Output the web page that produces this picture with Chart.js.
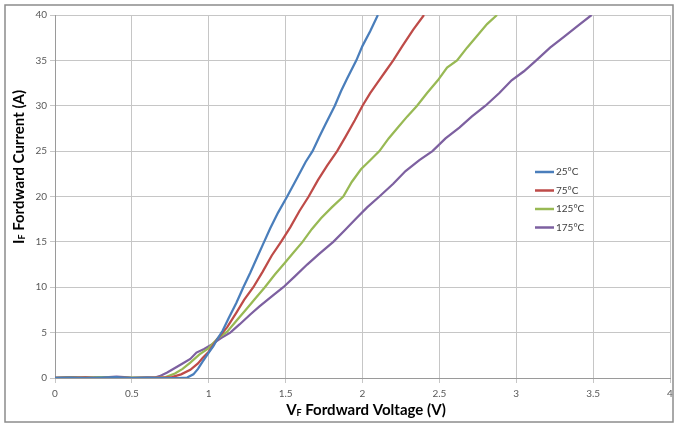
<!DOCTYPE html>
<html>
<head>
<meta charset="utf-8">
<script src="https://cdn.jsdelivr.net/npm/chart.js@4"></script>
<style>
  html, body { margin: 0; padding: 0; background: #fff; }
  #wrap { width: 676px; height: 425px; }
</style>
</head>
<body>
<div id="wrap"><canvas id="myChart" width="676" height="425"></canvas></div>
<script>
// forward voltage (V) / forward current (A)
const volts25 = [0, 0.1, 0.2, 0.3, 0.4, 0.5, 0.6, 0.7, 0.8, 0.86, 0.9, 0.93, 0.96, 1.0, 1.03, 1.06, 1.09, 1.13, 1.18, 1.225, 1.27, 1.32, 1.36, 1.4, 1.45, 1.51, 1.58, 1.63, 1.675, 1.72, 1.76, 1.82, 1.86, 1.9, 1.96, 2.0, 2.05, 2.1];
const amps25  = [0, 0.05, 0, 0.05, 0.1, 0, 0.05, 0, 0, 0.05, 0.4, 1.0, 1.8, 2.8, 3.5, 4.4, 5.2, 6.6, 8.3, 10, 11.6, 13.5, 15, 16.5, 18.2, 20, 22.2, 23.8, 25, 26.6, 28, 30, 31.6, 33, 35, 36.6, 38.2, 40];

const volts75 = [0, 0.1, 0.2, 0.3, 0.4, 0.5, 0.6, 0.7, 0.76, 0.82, 0.88, 0.93, 0.96, 1.0, 1.06, 1.12, 1.18, 1.23, 1.29, 1.35, 1.41, 1.47, 1.53, 1.59, 1.65, 1.71, 1.77, 1.835, 1.89, 1.95, 2.0, 2.05, 2.1, 2.15, 2.2, 2.26, 2.33, 2.4];
const amps75  = [0, 0.05, 0.05, 0, 0.1, 0, 0.05, 0.05, 0.1, 0.4, 0.9, 1.6, 2.2, 2.9, 4.4, 5.6, 7.2, 8.6, 10, 11.7, 13.5, 15, 16.6, 18.4, 20, 21.8, 23.4, 25, 26.6, 28.4, 30, 31.4, 32.6, 33.8, 35, 36.6, 38.4, 40];

const volts125 = [0, 0.1, 0.2, 0.3, 0.4, 0.5, 0.6, 0.66, 0.72, 0.78, 0.83, 0.88, 0.94, 1.0, 1.06, 1.12, 1.18, 1.24, 1.3, 1.365, 1.43, 1.49, 1.55, 1.61, 1.67, 1.73, 1.8, 1.875, 1.93, 1.99, 2.05, 2.11, 2.17, 2.23, 2.29, 2.355, 2.42, 2.49, 2.55, 2.615, 2.68, 2.75, 2.81, 2.875];
const amps125  = [0, 0.1, 0.05, 0.1, 0.05, 0.05, 0.05, 0.05, 0.1, 0.5, 1.0, 1.7, 2.6, 3.3, 4.4, 5.1, 6.3, 7.5, 8.7, 10, 11.4, 12.6, 13.8, 15, 16.4, 17.6, 18.8, 20, 21.6, 23.0, 24.0, 25, 26.4, 27.6, 28.8, 30, 31.4, 32.8, 34.2, 35, 36.4, 37.8, 39.0, 40];

const volts175 = [0, 0.05, 0.1, 0.15, 0.2, 0.25, 0.3, 0.35, 0.4, 0.45, 0.5, 0.55, 0.6, 0.65, 0.68, 0.73, 0.78, 0.83, 0.88, 0.92, 0.97, 1.02, 1.08, 1.14, 1.2, 1.27, 1.33, 1.41, 1.485, 1.56, 1.64, 1.72, 1.81, 1.88, 1.96, 2.03, 2.11, 2.2, 2.28, 2.37, 2.455, 2.54, 2.63, 2.71, 2.8, 2.89, 2.97, 3.05, 3.13, 3.22, 3.31, 3.4, 3.49];
const amps175  = [0, 0.05, 0.1, 0.05, 0.1, 0.05, 0.1, 0.1, 0.15, 0.1, 0.05, 0.05, 0.05, 0.05, 0.2, 0.6, 1.1, 1.6, 2.1, 2.8, 3.2, 3.7, 4.4, 5.0, 5.9, 7.0, 7.9, 9.0, 10, 11.2, 12.5, 13.7, 15, 16.2, 17.6, 18.8, 20, 21.4, 22.8, 24.0, 25, 26.4, 27.6, 28.8, 30, 31.4, 32.8, 33.8, 35, 36.4, 37.6, 38.8, 40];

const seriesLabels = ['25°C', '75°C', '125°C', '175°C'];

function pts(v, a) {
  return v.map((x, k) => ({ x: x, y: a[k] }));
}

const tickColor = '#595959';
const gridColor = '#c6c6c6';

// small legend inside the plot, Excel style
const innerLegend = {
  id: 'innerLegend',
  afterDatasetsDraw(chart) {
    const c = chart.ctx;
    c.save();
    c.font = '10px Lato';
    c.textBaseline = 'middle';
    chart.data.datasets.forEach((ds, i) => {
      const y = 172 + i * 18.5;
      c.strokeStyle = ds.borderColor;
      c.lineWidth = 2.5;
      c.beginPath();
      c.moveTo(535, y);
      c.lineTo(554, y);
      c.stroke();
      c.fillStyle = '#404040';
      c.fillText(ds.label, 556, y);
    });
    c.restore();
  }
};

// axis titles with the subscript F, and the outer frame
function drawSubTitle(c, big, sub, rest) {
  const fb = 'bold 15px Lato', fs = 'bold 9px Lato';
  c.font = fb; const w1 = c.measureText(big).width;
  c.font = fs; const w2 = c.measureText(sub).width;
  c.font = fb; const w3 = c.measureText(rest).width;
  let x = -(w1 + w2 + w3) / 2;
  c.fillStyle = '#000';
  c.textBaseline = 'middle';
  c.font = fb; c.fillText(big, x, 0); x += w1;
  c.font = fs; c.fillText(sub, x, 3); x += w2;
  c.font = fb; c.fillText(rest, x, 0);
}

const titlesAndFrame = {
  id: 'titlesAndFrame',
  afterDraw(chart) {
    const c = chart.ctx;
    c.save();
    c.translate(366, 410);
    drawSubTitle(c, 'V', 'F', ' Fordward Voltage (V)');
    c.restore();
    c.save();
    c.translate(19, 167);
    c.rotate(-Math.PI / 2);
    drawSubTitle(c, 'I', 'F', ' Fordward Current (A)');
    c.restore();
    c.save();
    c.strokeStyle = '#8c8c8c';
    c.lineWidth = 1.5;
    c.strokeRect(5, 5, 668, 417);
    c.restore();
  }
};

let ctx = document.getElementById('myChart').getContext('2d');
let myChart = new Chart(ctx, {
  type: 'scatter',
  data: {
    datasets: [
      { label: seriesLabels[0], data: pts(volts25, amps25), borderColor: '#4a7ebb', backgroundColor: '#4a7ebb' },
      { label: seriesLabels[1], data: pts(volts75, amps75), borderColor: '#be4b48', backgroundColor: '#be4b48' },
      { label: seriesLabels[2], data: pts(volts125, amps125), borderColor: '#98b954', backgroundColor: '#98b954' },
      { label: seriesLabels[3], data: pts(volts175, amps175), borderColor: '#7d60a0', backgroundColor: '#7d60a0' },
    ],
  },
  options: {
    responsive: false,
    animation: false,
    showLine: true,
    layout: { padding: { left: 0, right: 6, top: 15, bottom: 0 } },
    elements: {
      point: { radius: 0 },
      line: { borderWidth: 2.25, tension: 0 },
    },
    scales: {
      x: {
        type: 'linear',
        min: 0,
        max: 4,
        ticks: {
          stepSize: 0.5,
          color: tickColor,
          font: { size: 10, family: 'Lato' },
          padding: 5,
          callback: (v) => String(v),
        },
        grid: { color: gridColor, tickLength: 5 },
        border: { color: '#9a9a9a' },
        afterFit(scale) {
          scale.height = 47;
          scale.paddingLeft = 0;
          scale.paddingRight = 0;
        },
      },
      y: {
        min: 0,
        max: 40,
        ticks: { stepSize: 5, color: tickColor, font: { size: 10, family: 'Lato' }, padding: 3 },
        grid: { color: gridColor, tickLength: 5 },
        border: { color: '#9a9a9a' },
        afterFit(scale) { scale.width = 55; },
      },
    },
    plugins: {
      legend: { display: false },
      tooltip: { enabled: false },
    },
  },
  plugins: [innerLegend, titlesAndFrame],
});
</script>
</body>
</html>
